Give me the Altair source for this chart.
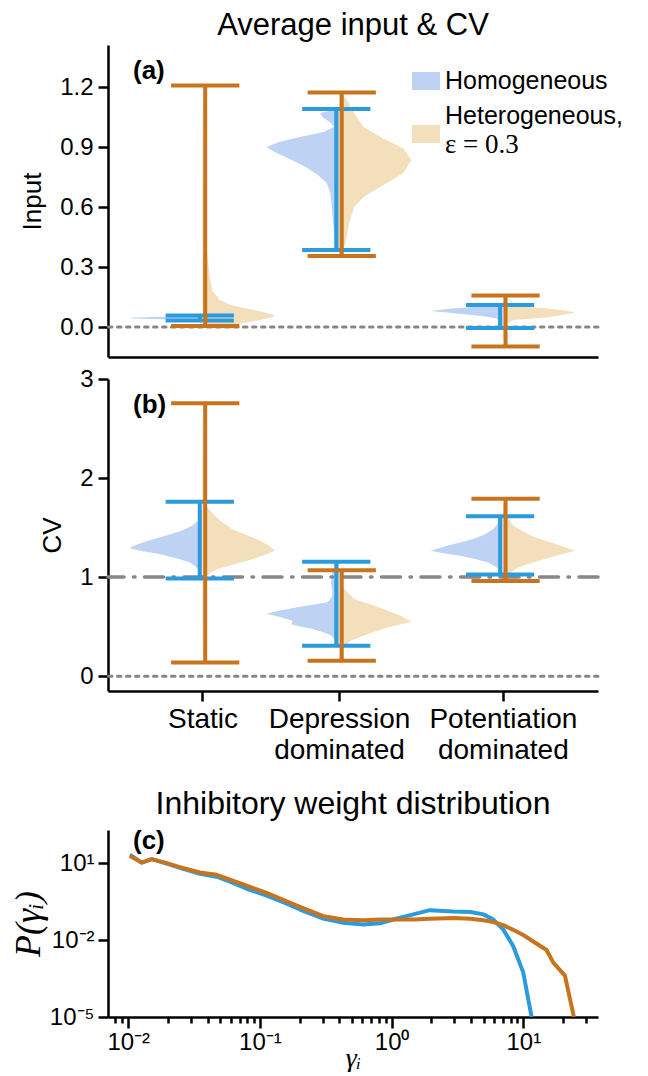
import json
import altair as alt
import pandas as pd

# ---------------- data ----------------
categories = ["Static", "Depression dominated", "Potentiation dominated"]
cat_lines = [["Static"], ["Depression", "dominated"], ["Potentiation", "dominated"]]
cat_pos = [0.0, 1.0, 2.2]
groups = ["Homogeneous", "Heterogeneous"]
legend_lines = [["Homogeneous"], ["Heterogeneous,", "ε = 0.3"]]

# extrema (min, max) per category
a_hom_min = [0.032, 0.385, -0.005]
a_hom_max = [0.057, 1.090, 0.110]
a_het_min = [0.005, 0.355, -0.097]
a_het_max = [1.207, 1.173, 0.158]
b_hom_min = [0.987, 0.306, 1.027]
b_hom_max = [1.760, 1.155, 1.615]
b_het_min = [0.138, 0.155, 0.960]
b_het_max = [2.755, 1.070, 1.790]

# violin profiles (value, relative density)
a_sta_hom_v = [0.032, 0.036, 0.040, 0.043, 0.046, 0.049, 0.053, 0.057]
a_sta_hom_d = [0.0, 0.25, 0.70, 0.95, 1.0, 0.80, 0.35, 0.0]
a_sta_het_v = [0.005, 0.015, 0.027, 0.04, 0.05, 0.06, 0.075, 0.093, 0.11, 0.135, 0.18, 0.25, 0.35, 0.5, 0.8, 1.207]
a_sta_het_d = [0.25, 0.49, 0.69, 0.86, 0.97, 1.0, 0.83, 0.61, 0.39, 0.24, 0.14, 0.10, 0.07, 0.03, 0.01, 0.0]
a_dep_hom_v = [0.385, 0.40, 0.44, 0.485, 0.55, 0.60, 0.67, 0.72, 0.76, 0.80, 0.85, 0.875, 0.90, 0.925, 0.95, 0.975, 1.0, 1.02, 1.05, 1.07, 1.08, 1.09]
a_dep_hom_d = [0.01, 0.04, 0.06, 0.07, 0.09, 0.10, 0.12, 0.17, 0.29, 0.46, 0.74, 0.89, 1.0, 0.83, 0.54, 0.21, 0.07, 0.11, 0.23, 0.26, 0.14, 0.03]
a_dep_het_v = [0.355, 0.42, 0.52, 0.60, 0.65, 0.70, 0.77, 0.835, 0.893, 0.95, 1.0, 1.07, 1.135, 1.16, 1.173]
a_dep_het_d = [0.03, 0.09, 0.14, 0.21, 0.34, 0.57, 0.89, 1.0, 0.89, 0.57, 0.34, 0.21, 0.11, 0.05, 0.01]
a_pot_hom_v = [-0.005, 0.0, 0.015, 0.03, 0.043, 0.055, 0.063, 0.072, 0.08, 0.09, 0.098, 0.105, 0.11]
a_pot_hom_d = [0.01, 0.03, 0.04, 0.06, 0.08, 0.28, 0.51, 0.77, 1.0, 0.77, 0.51, 0.21, 0.07]
a_pot_het_v = [-0.097, -0.05, -0.02, 0.005, 0.02, 0.035, 0.048, 0.062, 0.072, 0.082, 0.093, 0.105, 0.12, 0.14, 0.158]
a_pot_het_d = [0.0, 0.01, 0.02, 0.03, 0.07, 0.15, 0.61, 0.86, 1.0, 0.86, 0.61, 0.15, 0.07, 0.03, 0.0]

b_sta_hom_v = [0.987, 1.03, 1.08, 1.11, 1.15, 1.18, 1.215, 1.24, 1.26, 1.29, 1.31, 1.35, 1.38, 1.42, 1.47, 1.52, 1.57, 1.62, 1.70, 1.76]
b_sta_hom_d = [0.0, 0.02, 0.06, 0.10, 0.18, 0.31, 0.50, 0.65, 0.83, 1.0, 0.97, 0.83, 0.69, 0.50, 0.28, 0.14, 0.06, 0.03, 0.01, 0.0]
b_sta_het_v = [0.138, 0.6, 0.9, 0.98, 1.0, 1.04, 1.08, 1.12, 1.165, 1.22, 1.265, 1.32, 1.38, 1.43, 1.48, 1.55, 1.62, 1.70, 1.76, 2.0, 2.4, 2.755]
b_sta_het_d = [0.0, 0.01, 0.01, 0.03, 0.04, 0.10, 0.20, 0.39, 0.62, 0.85, 1.0, 0.92, 0.76, 0.59, 0.42, 0.28, 0.17, 0.07, 0.04, 0.02, 0.01, 0.0]
b_dep_hom_v = [0.306, 0.34, 0.41, 0.44, 0.475, 0.50, 0.525, 0.56, 0.60, 0.63, 0.66, 0.70, 0.745, 0.80, 0.85, 0.946, 1.05, 1.155]
b_dep_hom_d = [0.0, 0.03, 0.11, 0.21, 0.36, 0.54, 0.66, 0.64, 0.83, 1.0, 0.83, 0.54, 0.16, 0.10, 0.09, 0.11, 0.09, 0.0]
b_dep_het_v = [0.155, 0.27, 0.357, 0.425, 0.49, 0.55, 0.61, 0.70, 0.78, 0.88, 0.98, 1.07]
b_dep_het_d = [0.0, 0.04, 0.16, 0.40, 0.67, 1.0, 0.85, 0.53, 0.21, 0.07, 0.04, 0.0]
b_pot_hom_v = [1.027, 1.08, 1.11, 1.15, 1.18, 1.215, 1.24, 1.265, 1.316, 1.35, 1.385, 1.43, 1.485, 1.55, 1.615]
b_pot_hom_d = [0.0, 0.06, 0.11, 0.21, 0.37, 0.59, 0.82, 1.0, 0.77, 0.59, 0.41, 0.25, 0.13, 0.06, 0.0]
b_pot_het_v = [0.96, 1.0, 1.047, 1.09, 1.13, 1.2, 1.265, 1.33, 1.37, 1.42, 1.52, 1.65, 1.79]
b_pot_het_d = [0.0, 0.03, 0.11, 0.19, 0.34, 0.66, 1.0, 0.75, 0.58, 0.38, 0.14, 0.04, 0.0]

# panel (c): inhibitory weight distribution
gamma_hom = [0.0103, 0.01265, 0.01507, 0.0196, 0.0247, 0.035, 0.0469, 0.0592, 0.0793, 0.1125, 0.1596, 0.2014,
             0.303, 0.43, 0.608, 0.815, 1.03, 1.46, 1.95, 2.94, 3.96, 4.97, 5.92, 7.03, 8.37, 9.98, 11.56]
p_hom = [21.4, 10.5, 14.3, 9.5, 6.6, 3.85, 2.95, 1.9, 1.0, 0.54, 0.263, 0.155,
         0.069, 0.0472, 0.0407, 0.0447, 0.063, 0.1, 0.146, 0.129, 0.123, 0.1, 0.063, 0.026, 0.0059, 0.00055, 0.00001]
gamma_het = [0.0103, 0.01265, 0.01507, 0.0196, 0.0247, 0.035, 0.0469, 0.0592, 0.0793, 0.1125, 0.1596, 0.2014,
             0.303, 0.43, 0.608, 0.815, 1.03, 1.46, 1.95, 2.94, 3.96, 4.97, 5.92, 7.03, 8.37, 9.98, 15.0, 16.9, 20.7, 24.2]
p_het = [19.0, 10.5, 14.3, 10.0, 7.0, 4.3, 3.5, 2.25, 1.32, 0.69, 0.325, 0.197,
         0.085, 0.063, 0.0596, 0.063, 0.063, 0.063, 0.0676, 0.0716, 0.0676, 0.059, 0.05, 0.038, 0.025, 0.0158,
         0.0041, 0.00132, 0.00041, 0.00001]

# ---------------- style ----------------
FONT = "Liberation Sans"
SERIF = "Liberation Serif"
BLUE, ORANGE = "#2C9BDE", "#C8741F"
BLUE_FILL, ORANGE_FILL = "#BED3F3", "#F4DFBD"
FILLS = [BLUE_FILL, ORANGE_FILL]
GRAY = "#878787"
VW = 0.53      # violin half width (category units)
BAR_OFF = 0.02
CAP = 0.25
PLOT_W = 490

violins = {
    "a": [(0, a_sta_hom_v, a_sta_hom_d, 0), (0, a_sta_het_v, a_sta_het_d, 1),
          (1, a_dep_hom_v, a_dep_hom_d, 0), (1, a_dep_het_v, a_dep_het_d, 1),
          (2, a_pot_hom_v, a_pot_hom_d, 0), (2, a_pot_het_v, a_pot_het_d, 1)],
    "b": [(0, b_sta_hom_v, b_sta_hom_d, 0), (0, b_sta_het_v, b_sta_het_d, 1),
          (1, b_dep_hom_v, b_dep_hom_d, 0), (1, b_dep_het_v, b_dep_het_d, 1),
          (2, b_pot_hom_v, b_pot_hom_d, 0), (2, b_pot_het_v, b_pot_het_d, 1)],
}
extrema = {
    "a": [(a_hom_min, a_hom_max), (a_het_min, a_het_max)],
    "b": [(b_hom_min, b_hom_max), (b_het_min, b_het_max)],
}

xscale = alt.Scale(domain=[-0.692, 2.897], nice=False, zero=False)
fill_scale = alt.Scale(domain=groups, range=FILLS)

cat_expr = " : ".join(
    f"datum.value == {p} ? {json.dumps(l, ensure_ascii=False)}" for p, l in zip(cat_pos[:-1], cat_lines[:-1])
) + " : " + json.dumps(cat_lines[-1], ensure_ascii=False)


def make_panel(panel, ydomain, yvals, yfmt, ytitle, xaxis, title=None, legend=False, tag="(a)"):
    yscale = alt.Scale(domain=ydomain, nice=False, zero=False)
    yaxis = alt.Axis(values=yvals, format=yfmt, title=ytitle, tickSize=10, labelPadding=5,
                     titlePadding=14, labelFontSize=24, titleFontSize=26)

    def X(f):
        return alt.X(f, type="quantitative", scale=xscale, axis=xaxis)

    def Y(f):
        return alt.Y(f, type="quantitative", scale=yscale, axis=yaxis)

    layers = []
    # split violins: homogeneous to the left, heterogeneous to the right
    for ci, vs, ds, gi in violins[panel]:
        pos = cat_pos[ci]
        sgn = -1 if gi == 0 else 1
        df = pd.DataFrame(dict(v=vs, lo=[pos + min(0, sgn * VW * d) for d in ds],
                               hi=[pos + max(0, sgn * VW * d) for d in ds]))
        layers.append(alt.Chart(df).mark_area(orient="horizontal", fill=FILLS[gi], opacity=1).encode(
            y=Y("v"), x=X("lo"), x2=alt.X2("hi")))
    # reference lines
    layers.append(alt.Chart(pd.DataFrame({"v": [0]})).mark_rule(
        color=GRAY, strokeWidth=3, strokeDash=[3.5, 5.5], strokeCap="round").encode(y=Y("v")))
    if panel == "b":
        layers.append(alt.Chart(pd.DataFrame({"v": [1]})).mark_rule(
            color=GRAY, strokeWidth=3.5, strokeDash=[19, 9.5, 1.5, 9.5], strokeCap="round").encode(y=Y("v")))
    # error bars (extrema)
    colors = [BLUE, ORANGE]
    for gi in range(2):
        mins, maxs = extrema[panel][gi]
        off = -BAR_OFF if gi == 0 else BAR_OFF
        xs = [p + off for p in cat_pos]
        dfv = pd.DataFrame(dict(x=xs, lo=mins, hi=maxs))
        dfc = pd.DataFrame(dict(xl=[x - CAP for x in xs] * 2, xr=[x + CAP for x in xs] * 2, v=mins + maxs))
        layers.append(alt.Chart(dfv).mark_rule(color=colors[gi], strokeWidth=4).encode(
            x=X("x"), y=Y("lo"), y2="hi"))
        layers.append(alt.Chart(dfc).mark_rule(color=colors[gi], strokeWidth=4).encode(
            x=X("xl"), x2="xr", y=Y("v")))
    layers.append(alt.Chart(pd.DataFrame({"t": [tag]})).mark_text(
        font=FONT, fontSize=26, fontWeight="bold", align="left", baseline="alphabetic", color="black").encode(
        text="t:N", x=alt.value(25), y=alt.value(34)))
    if legend:
        # legend: swatch per group, label lines to the right
        sw = pd.DataFrame(dict(group=groups, y0=[27, 80], y1=[45, 98]))
        layers.append(alt.Chart(sw).mark_rect().encode(
            x=alt.value(304), x2=alt.value(332),
            y=alt.Y("y0:Q", scale=None), y2="y1",
            fill=alt.Fill("group:N", scale=fill_scale, legend=None)))
        lab = pd.DataFrame(dict(t=[legend_lines[0][0], legend_lines[1][0]], y=[36, 71]))
        layers.append(alt.Chart(lab).mark_text(font=FONT, fontSize=25, align="left", baseline="middle",
                                               color="black").encode(
            text="t:N", x=alt.value(337), y=alt.Y("y:Q", scale=None)))
        lab2 = pd.DataFrame(dict(t=[legend_lines[1][1]], y=[100]))
        layers.append(alt.Chart(lab2).mark_text(font=SERIF, fontSize=27, align="left", baseline="middle",
                                                color="black").encode(
            text="t:N", x=alt.value(337), y=alt.Y("y:Q", scale=None)))
    ch = alt.layer(*layers).properties(width=PLOT_W, height=312)
    if title:
        ch = ch.properties(title=alt.TitleParams(title, font=FONT, fontSize=31, fontWeight="normal",
                                                 offset=3, frame="group", anchor="middle", color="black"))
    return ch


xaxis_a = alt.Axis(labels=False, ticks=False, title=None, domain=True)
xaxis_b = alt.Axis(values=cat_pos, labelExpr=cat_expr, title=None, tickSize=10, labelPadding=4,
                   labelFontSize=28, labelLineHeight=31, labelOverlap=False)

pa = make_panel("a", [-0.15, 1.41], [0, 0.3, 0.6, 0.9, 1.2], ".1f", "Input", xaxis_a,
                title="Average input & CV", legend=True, tag="(a)")
pb = make_panel("b", [-0.15, 3.0], [0, 1, 2, 3], "d", "CV", xaxis_b, tag="(b)")

# ---------------- panel (c) ----------------
major_x = [0.01, 0.1, 1, 10]
major_x_lab = ["10⁻²", "10⁻¹", "10⁰", "10¹"]
minor_x = [0.008, 0.009] + [k * 0.01 for k in range(2, 10)] + [k * 0.1 for k in range(2, 10)] + \
          [float(k) for k in range(2, 10)] + [20.0, 30.0]
major_y = [1e-5, 1e-2, 10]
major_y_lab = ["10⁻⁵", "10⁻²", "10¹"]

xlab_expr = " : ".join(f"datum.value == {v} ? '{l}'" for v, l in zip(major_x, major_x_lab)) + " : ''"
ylab_expr = " : ".join(f"datum.value == {v} ? '{l}'" for v, l in zip(major_y, major_y_lab)) + " : ''"
major_test = f"indexof({json.dumps(major_x)}, datum.value) >= 0"

cx_scale = alt.Scale(type="log", domain=[0.00702, 36.9], nice=False)
cy_scale = alt.Scale(type="log", domain=[1e-5, 195], nice=False)
cx_axis = alt.Axis(values=sorted(major_x + minor_x), labelExpr=xlab_expr, labelOverlap=False, labelBound=False,
                   tickSize={"condition": {"test": major_test, "value": 11}, "value": 6},
                   title="γᵢ", titleFont=SERIF, titleFontStyle="italic", titleFontSize=28,
                   titleBaseline="alphabetic", labelFontSize=24, labelPadding=2, titlePadding=12)
cy_axis = alt.Axis(values=major_y, labelExpr=ylab_expr, labelOverlap=False, tickSize=10, labelPadding=4,
                   title="P(γᵢ)", titleFont=SERIF, titleFontStyle="italic", titleFontSize=36,
                   labelFontSize=24, titlePadding=2)

hom_df = pd.DataFrame(dict(g=gamma_hom, p=p_hom))
het_df = pd.DataFrame(dict(g=gamma_het, p=p_het))


def cline(df, color):
    return alt.Chart(df).mark_line(color=color, strokeWidth=4, clip=True, strokeJoin="round").encode(
        x=alt.X("g:Q", scale=cx_scale, axis=cx_axis),
        y=alt.Y("p:Q", scale=cy_scale, axis=cy_axis),
        order=alt.Order("g:Q"),
    )


ctag = alt.Chart(pd.DataFrame({"t": ["(c)"]})).mark_text(
    font=FONT, fontSize=26, fontWeight="bold", align="left", baseline="alphabetic", color="black").encode(
    text="t:N", x=alt.value(25), y=alt.value(19))

pc = alt.layer(cline(hom_df, BLUE), cline(het_df, ORANGE), ctag).properties(
    width=PLOT_W, height=187,
    title=alt.TitleParams("Inhibitory weight distribution", font=FONT, fontSize=32, fontWeight="normal",
                          offset=7, frame="group", anchor="middle", color="black"))

top = alt.vconcat(pa, pb, spacing=10)
chart = alt.vconcat(top, pc, spacing=24).properties(
    padding={"left": 2, "top": 2, "right": 2, "bottom": 0}
).configure_axis(
    domainColor="black", domainWidth=2.5, tickColor="black", tickWidth=2.5,
    labelFont=FONT, labelColor="black", titleFont=FONT, titleColor="black",
    titleFontWeight="normal", grid=False,
).configure_view(stroke=None)

chart.save("out.html", embed_options={"renderer": "svg", "actions": False})
